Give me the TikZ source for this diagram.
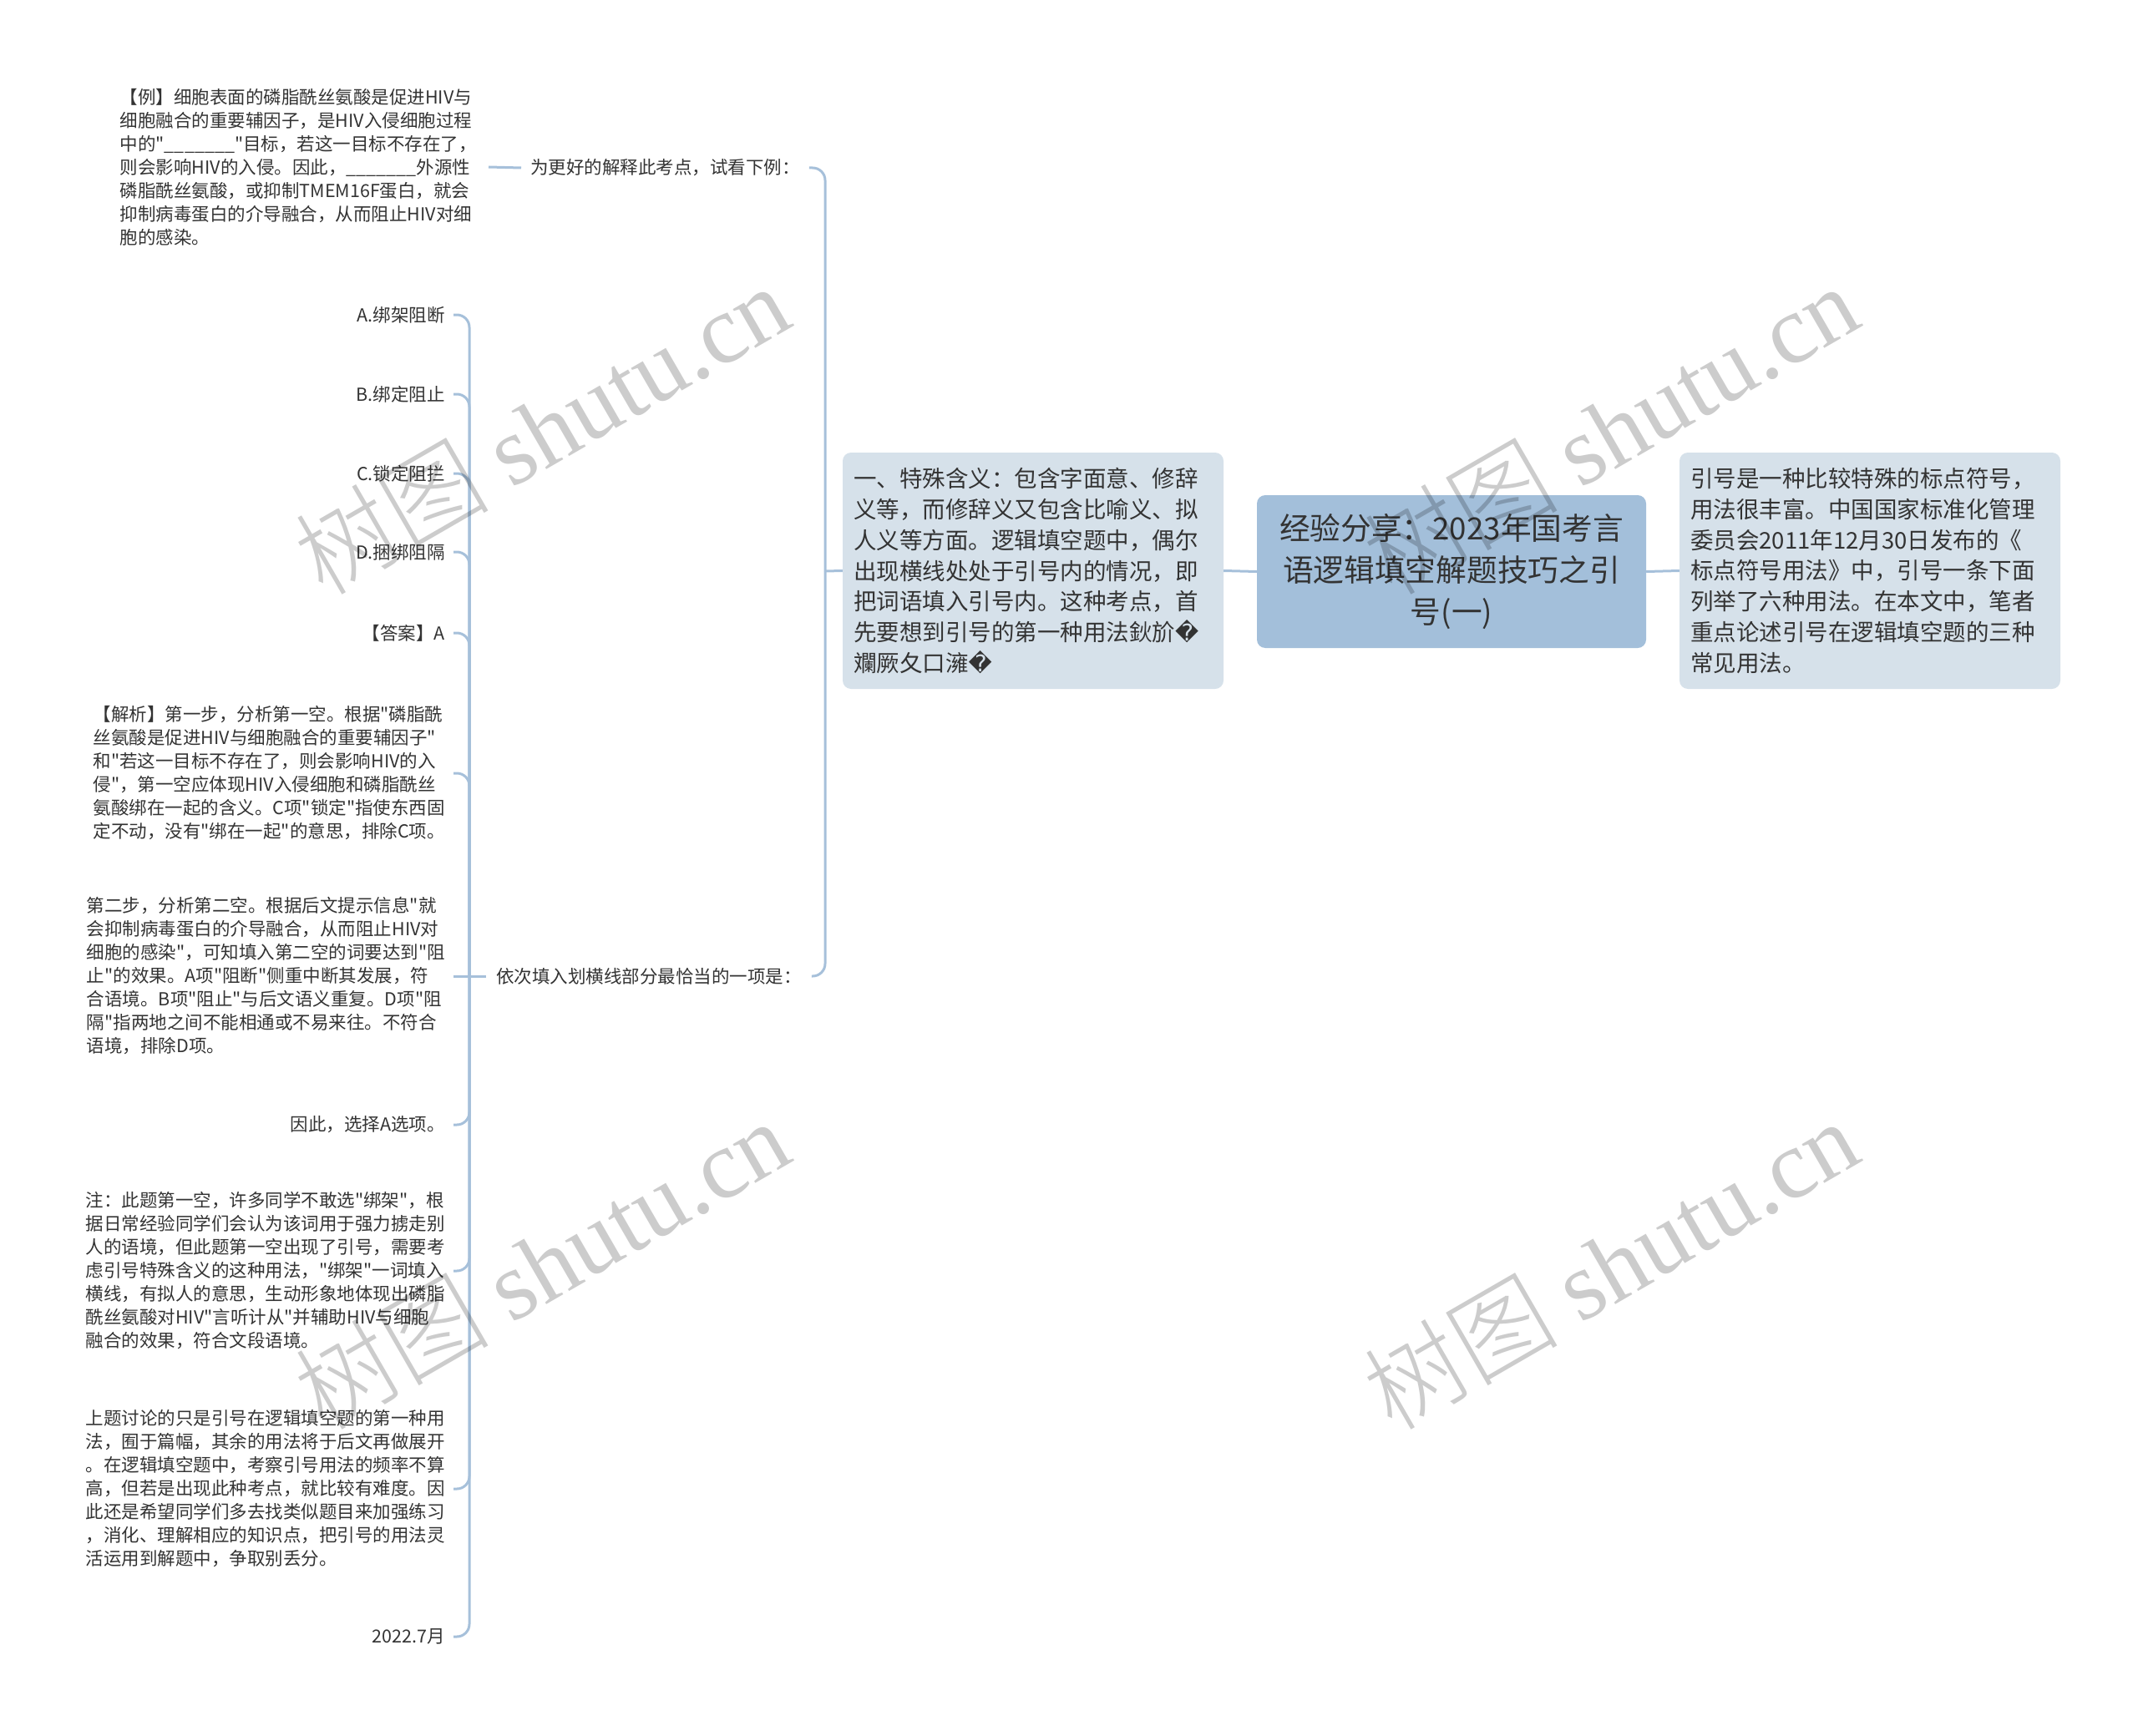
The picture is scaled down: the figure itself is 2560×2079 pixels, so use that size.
\documentclass[tikz,border=0pt]{standalone}
\usepackage{fontspec}
\newfontfamily\mainf{Noto Sans CJK SC}
\newfontfamily\wmcjk{Noto Sans CJK SC Light}
\newfontfamily\wmlatin{Liberation Serif}
\newfontfamily\replfont{DejaVu Sans}
\definecolor{linec}{RGB}{166,192,218}
\definecolor{rootc}{RGB}{163,191,218}
\definecolor{subc}{RGB}{214,225,234}
\definecolor{txt}{RGB}{51,51,51}
\newcommand{\rchar}{{\replfont �}}
\newcommand{\blank}{\_\_\_\_\_\_\_}
\tikzset{
 conn/.style={draw=linec, line width=3pt, rounded corners=15pt},
 small/.style={font=\mainf\fontsize{21.5}{28}\selectfont, text=txt, inner ysep=0pt},
 leaf/.style={small, anchor=east, inner xsep=10pt},
 para/.style={small, anchor=east, inner xsep=10pt, align=left},
 subn/.style={fill=subc, rounded corners=10pt, minimum width=456pt, minimum height=283pt, text width=430pt, inner xsep=13pt, align=left, font=\mainf\fontsize{27.5}{36.7}\selectfont, text=txt},
 rootn/.style={fill=rootc, rounded corners=10pt, minimum width=466pt, minimum height=183pt, text width=440pt, align=center, font=\mainf\fontsize{36.7}{50}\selectfont, text=txt},
 wm/.style={rotate=30, text=black, text opacity=0.2, font=\mainf\fontsize{117}{117}\selectfont}
}
\begin{document}
\begin{tikzpicture}[x=1pt,y=-1pt]
\useasboundingbox (0,0) rectangle (2560,2079);
% main nodes
\node[rootn] (root) at (1738,684.5) {经验分享：2023年国考言\\语逻辑填空解题技巧之引\\号(一)};
\node[subn] (left) at (1237,683.5) {一、特殊含义：包含字面意、修辞\\义等，而修辞义又包含比喻义、拟\\人义等方面。逻辑填空题中，偶尔\\出现横线处处于引号内的情况，即\\把词语填入引号内。这种考点，首\\先要想到引号的第一种用法鈥斺\rchar\\斕厥夂口澭\rchar};
\node[subn] (right) at (2239,683.5) {引号是一种比较特殊的标点符号，\\用法很丰富。中国国家标准化管理\\委员会2011年12月30日发布的《\\标点符号用法》中，引号一条下面\\列举了六种用法。在本文中，笔者\\重点论述引号在逻辑填空题的三种\\常见用法。};
% labels
\node[small, anchor=west, inner xsep=11pt] (l1) at (624,201) {为更好的解释此考点，试看下例：};
\node[small, anchor=west, inner xsep=12pt] (l2) at (582,1169) {依次填入划横线部分最恰当的一项是：};
% example
\node[small, anchor=east, inner xsep=14pt, align=left] (ex) at (585,200) {【例】细胞表面的磷脂酰丝氨酸是促进HIV与\\细胞融合的重要辅因子，是HIV入侵细胞过程\\中的"\blank"目标，若这一目标不存在了，\\则会影响HIV的入侵。因此，\blank 外源性\\磷脂酰丝氨酸，或抑制TMEM16F蛋白，就会\\抑制病毒蛋白的介导融合，从而阻止HIV对细\\胞的感染。};
% children of l2
\node[leaf] (ca) at (543,377) {A.绑架阻断};
\node[leaf] (cb) at (543,472) {B.绑定阻止};
\node[leaf] (cc) at (543,567) {C.锁定阻拦};
\node[leaf] (cd) at (543,661) {D.捆绑阻隔};
\node[leaf] (cans) at (543,758) {【答案】A};
\node[para] (cjx) at (543,926) {【解析】第一步，分析第一空。根据"磷脂酰\\丝氨酸是促进HIV与细胞融合的重要辅因子"\\和"若这一目标不存在了，则会影响HIV的入\\侵"，第一空应体现HIV入侵细胞和磷脂酰丝\\氨酸绑在一起的含义。C项"锁定"指使东西固\\定不动，没有"绑在一起"的意思，排除C项。};
\node[para] (cs2) at (543,1169) {第二步，分析第二空。根据后文提示信息"就\\会抑制病毒蛋白的介导融合，从而阻止HIV对\\细胞的感染"，可知填入第二空的词要达到"阻\\止"的效果。A项"阻断"侧重中断其发展，符\\合语境。B项"阻止"与后文语义重复。D项"阻\\隔"指两地之间不能相通或不易来往。不符合\\语境，排除D项。};
\node[leaf] (cys) at (543,1347) {因此，选择A选项。};
\node[para] (cz) at (543,1522) {注：此题第一空，许多同学不敢选"绑架"，根\\据日常经验同学们会认为该词用于强力掳走别\\人的语境，但此题第一空出现了引号，需要考\\虑引号特殊含义的这种用法，"绑架"一词填入\\横线，有拟人的意思，生动形象地体现出磷脂\\酰丝氨酸对HIV"言听计从"并辅助HIV与细胞\\融合的效果，符合文段语境。};
\node[para] (cst) at (543,1783) {上题讨论的只是引号在逻辑填空题的第一种用\\法，囿于篇幅，其余的用法将于后文再做展开\\。在逻辑填空题中，考察引号用法的频率不算\\高，但若是出现此种考点，就比较有难度。因\\此还是希望同学们多去找类似题目来加强练习\\，消化、理解相应的知识点，把引号的用法灵\\活运用到解题中，争取别丢分。};
\node[leaf] (cdate) at (543,1960) {2022.7月};
% connectors
\coordinate (hub1) at (988,684);
\coordinate (hub2) at (562,1169);
\draw[conn] (root.west) -- (left.east);
\draw[conn] (root.east) -- (right.west);
\draw[conn] (left.west) -- (hub1);
\draw[conn] (hub1) |- (l1.east);
\draw[conn] (hub1) |- (l2.east);
\draw[conn] (ex.east) -- (l1.west);
\draw[conn] (l2.west) -- (hub2);
\draw[conn] (hub2) -- (cs2.east);
\foreach \n in {ca,cb,cc,cd,cans,cjx,cys,cz,cst,cdate} \draw[conn] (hub2) |- (\n.east);
% watermarks
\node[wm] (wm1) at (648,514) {{\wmcjk 树图} {\wmlatin shutu.cn}};
\node[wm] (wm2) at (1928,514) {{\wmcjk 树图} {\wmlatin shutu.cn}};
\node[wm] (wm3) at (648,1514) {{\wmcjk 树图} {\wmlatin shutu.cn}};
\node[wm] (wm4) at (1928,1514) {{\wmcjk 树图} {\wmlatin shutu.cn}};
\end{tikzpicture}
\end{document}
